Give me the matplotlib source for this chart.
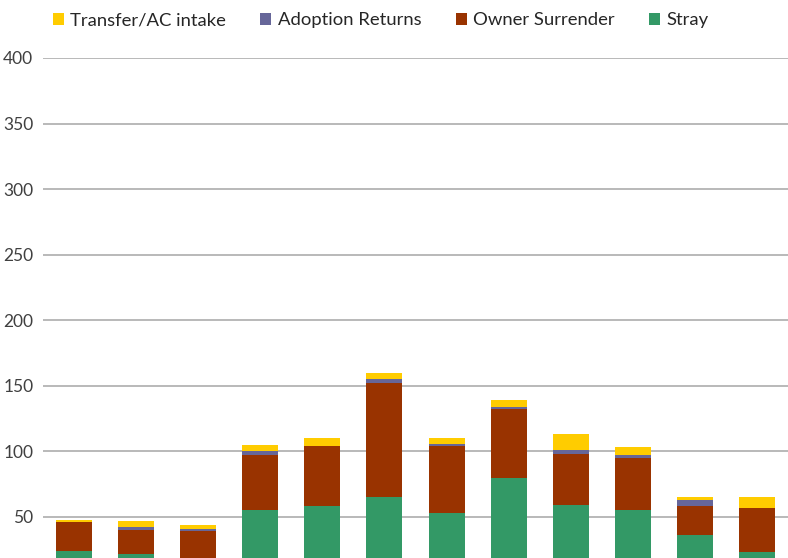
import matplotlib.pyplot as plt
import numpy as np

plt.rcParams['font.family'] = ['Lato', 'DejaVu Sans']

# intake by month (bottom of chart is cropped in the reference)
months = ["Jan", "Feb", "Mar", "Apr", "May", "Jun",
          "Jul", "Aug", "Sep", "Oct", "Nov", "Dec"]
stray = [24, 22, 15, 55, 58, 65, 53, 80, 59, 55, 36, 23]
owner_surrender = [22, 18, 24, 42, 46, 87, 51, 52, 39, 40, 22, 34]
adoption_returns = [0, 2, 2, 3, 0, 3, 2, 2, 3, 2, 5, 0]
transfer_ac = [2, 5, 3, 5, 6, 5, 4, 5, 12, 6, 2, 8]

colors = {"stray": "#339966", "owner": "#993300",
          "adopt": "#666699", "transfer": "#ffcc00"}

fig = plt.figure(figsize=(7.88, 5.58), dpi=100)
ax = fig.add_axes([43 / 788, 0, 1 - 43 / 788, 1 - 58 / 558])

x = np.arange(len(months))
w = 0.58
b1 = np.array(stray)
b2 = b1 + np.array(owner_surrender)
b3 = b2 + np.array(adoption_returns)

h_stray = ax.bar(x, stray, w, color=colors["stray"], zorder=3)
h_owner = ax.bar(x, owner_surrender, w, bottom=b1, color=colors["owner"], zorder=3)
h_adopt = ax.bar(x, adoption_returns, w, bottom=b2, color=colors["adopt"], zorder=3)
h_trans = ax.bar(x, transfer_ac, w, bottom=b3, color=colors["transfer"], zorder=3)

ax.set_xlim(-0.5, len(months) - 0.5)
ax.set_ylim(18.7, 400)
ax.set_yticks([50, 100, 150, 200, 250, 300, 350, 400])
# month labels sit below the cropped bottom edge in the reference
ax.set_xticks(x)
ax.tick_params(axis="x", length=0, labelbottom=False)
ax.yaxis.grid(True, color="#a6a6a6", linewidth=1.1, zorder=0)
ax.tick_params(axis="y", length=0, labelsize=12.5, labelcolor="#404040", pad=7)
for s in ax.spines.values():
    s.set_visible(False)

fig.legend([h_trans, h_adopt, h_owner, h_stray],
           ["Transfer/AC intake", "Adoption Returns", "Owner Surrender", "Stray"],
           loc="upper left", bbox_to_anchor=(36 / 788, 1.008), ncol=4, frameon=False,
           fontsize=13.3, handlelength=0.6, handleheight=0.6, handletextpad=0.35,
           columnspacing=1.85, labelcolor="#262626")

fig.savefig("out.png", dpi=100)
